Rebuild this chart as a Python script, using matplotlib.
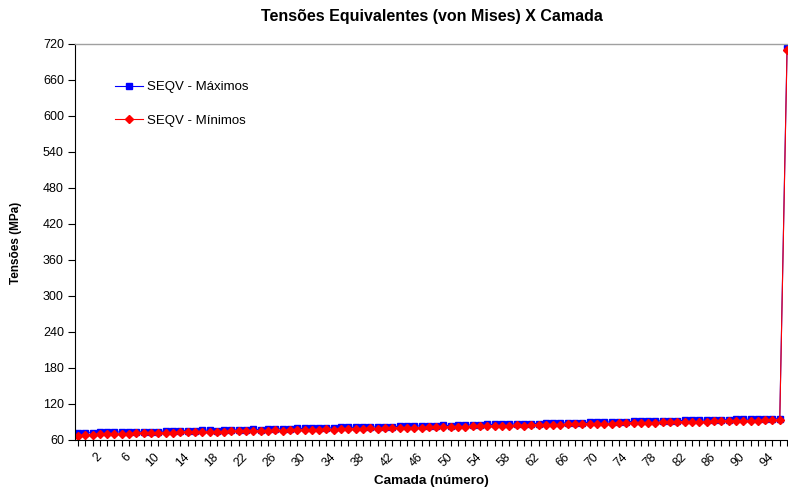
import matplotlib
matplotlib.use("Agg")
import matplotlib.pyplot as plt
import matplotlib.transforms as mtransforms
import numpy as np

plt.rcParams['font.family'] = ['Liberation Sans', 'DejaVu Sans']

title = "Tensões Equivalentes (von Mises) X Camada"
xlabel = "Camada (número)"
ylabel = "Tensões (MPa)"
series_names = ["SEQV - Máximos", "SEQV - Mínimos"]

seqv_max = [
    72.0, 72.0, 72.1, 73.5, 72.6, 73.2, 73.4, 72.9, 73.8, 73.6,
    74.0, 73.9, 75.1, 74.3, 75.4, 75.6, 75.5, 75.9, 76.7, 75.8,
    76.8, 76.9, 77.0, 77.3, 77.9, 77.1, 78.4, 78.6, 78.5, 78.8,
    79.4, 79.3, 79.6, 79.8, 80.4, 80.0, 80.9, 81.0, 81.2, 81.3,
    81.9, 81.6, 82.3, 82.4, 82.8, 82.6, 83.4, 83.3, 83.6, 83.9,
    84.5, 84.1, 84.8, 84.9, 85.4, 85.2, 86.0, 85.9, 86.2, 86.5,
    86.9, 86.7, 87.4, 87.5, 88.0, 87.8, 88.4, 88.6, 88.7, 89.0,
    89.5, 89.2, 89.9, 90.0, 90.6, 90.3, 91.0, 91.1, 91.3, 91.6,
    92.0, 91.8, 92.4, 92.6, 93.1, 92.9, 93.4, 93.6, 93.7, 94.0,
    94.5, 94.3, 94.8, 94.9, 95.4, 95.3, 95.6,
    714.0,
]
seqv_min = [
    67.0, 68.8, 69.0, 69.6, 69.5, 70.3, 69.9, 70.8, 70.9, 71.0,
    71.3, 71.2, 72.4, 71.8, 72.9, 73.0, 72.8, 73.4, 73.9, 73.2,
    74.1, 74.2, 74.5, 74.6, 75.2, 74.6, 75.8, 75.9, 75.8, 76.1,
    76.7, 76.6, 76.9, 77.2, 77.8, 77.3, 78.3, 78.4, 78.5, 78.7,
    79.3, 79.0, 79.7, 79.8, 80.2, 80.0, 80.8, 80.7, 81.0, 81.3,
    81.9, 81.5, 82.2, 82.3, 82.8, 82.6, 83.4, 83.3, 83.6, 83.9,
    84.3, 84.1, 84.8, 84.9, 85.4, 85.2, 85.8, 86.0, 86.1, 86.4,
    86.9, 86.6, 87.3, 87.4, 88.0, 87.7, 88.4, 88.5, 88.7, 89.0,
    89.4, 89.2, 89.8, 90.0, 90.5, 90.3, 90.8, 91.0, 91.1, 91.4,
    91.9, 91.7, 92.2, 92.3, 92.8, 92.7, 93.0,
    710.0,
]
x_tick_labels = ["2", "6", "10", "14", "18", "22", "26", "30", "34", "38",
                 "42", "46", "50", "54", "58", "62", "66", "70", "74", "78",
                 "82", "86", "90", "94"]
y_ticks = [60, 120, 180, 240, 300, 360, 420, 480, 540, 600, 660, 720]

W, H = 788, 491
fig = plt.figure(figsize=(W / 100, H / 100), dpi=100)
ax = fig.add_axes([75 / W, (H - 440) / H, (790 - 75) / W, (440 - 44) / H])

x = np.arange(len(seqv_max))
ax.plot(x, seqv_max, color="#0000FF", lw=0.8, marker="s", ms=4.5,
        markeredgecolor="#0000FF", label=series_names[0])
ax.plot(x, seqv_min, color="#FF0000", lw=0.8, marker="D", ms=4.0,
        markeredgecolor="#FF0000", label=series_names[1])

ax.set_xlim(-0.4, len(x) - 0.6)
ax.set_ylim(60, 720)
ax.set_yticks(y_ticks)
ax.tick_params(axis="y", labelsize=9, length=5, width=0.8, direction="out",
               pad=3, colors="#000000")

ax.set_xticks(x, minor=True)
label_pos = [3 + 4 * i for i in range(len(x_tick_labels))]
ax.set_xticks(label_pos)
ax.set_xticklabels(x_tick_labels, rotation=45, ha="right", va="top", fontsize=8.8)
ax.tick_params(axis="x", which="major", length=4, width=0.8, pad=4)
ax.tick_params(axis="x", which="minor", length=4, width=0.8)
offset = mtransforms.ScaledTranslation(4 / 100, 0, fig.dpi_scale_trans)
for lbl in ax.get_xticklabels():
    lbl.set_transform(lbl.get_transform() + offset)

for s in ["left", "bottom"]:
    ax.spines[s].set_color("#000000")
    ax.spines[s].set_linewidth(0.8)
ax.spines["top"].set_color("#a0a0a0")
ax.spines["top"].set_linewidth(1.0)
ax.spines["right"].set_visible(False)

fig.text(432 / W, 1 - 16 / H, title, ha="center", va="center",
         fontsize=11.5, fontweight="bold")
fig.text(431 / W, 1 - 481 / H, xlabel, ha="center", va="center",
         fontsize=9.7, fontweight="bold")
fig.text(16 / W, 1 - 243 / H, ylabel, ha="center", va="center",
         fontsize=8.5, fontweight="bold", rotation=90)

leg = ax.legend(loc="upper left", bbox_to_anchor=(40 / 715, 1 - 37 / 396),
                frameon=False, fontsize=9.5, handlelength=2.1, handletextpad=0.35,
                labelspacing=1.6, borderaxespad=0, borderpad=0)

fig.savefig("out.png", dpi=100, facecolor="white")
